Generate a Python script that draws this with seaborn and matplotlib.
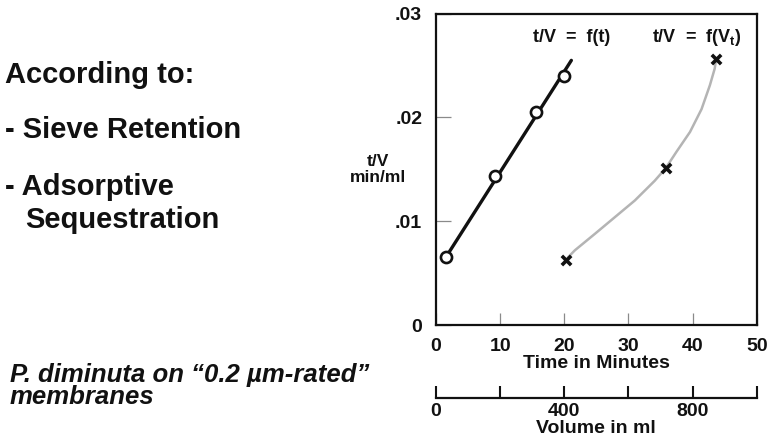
import matplotlib
matplotlib.use("Agg")
import matplotlib.pyplot as plt
import pandas as pd
import seaborn as sns

# Values
# t/V = f(t): open circles and the straight fit through them
time_min = [1.6, 9.2, 15.6, 19.9]
tv_time = [0.0066, 0.0144, 0.0205, 0.0240]
fit_min = [1.4, 21.1]
fit_tv = [0.0064, 0.0255]

# t/V = f(Vt): crosses and the grey curve (drawn on the minutes scale)
vol_min = [20.2, 35.8, 43.7]
tv_vol = [0.0063, 0.0151, 0.0256]
curve_min = [20.55, 21.65, 24.8, 27.9, 31.0, 34.1, 35.8, 37.5, 39.6, 41.4, 42.7, 43.45, 43.6]
curve_tv = [0.0065, 0.0072, 0.0088, 0.0104, 0.0120, 0.0139, 0.0151, 0.0167, 0.0186,
            0.0208, 0.0231, 0.0247, 0.0253]

x_ticks = [0, 10, 20, 30, 40, 50]
y_ticks = [0, 0.01, 0.02, 0.03]
y_labels = ["0", ".01", ".02", ".03"]
vol_major = [0, 400, 800]
vol_minor = [200, 600, 1000]

sns.set_theme(style="white")
plt.rcParams["font.family"] = ["Liberation Sans", "DejaVu Sans"]
plt.rcParams["font.weight"] = "bold"
plt.rcParams["text.color"] = "#111111"
plt.rcParams["axes.labelcolor"] = "#111111"
plt.rcParams["xtick.color"] = "#111111"
plt.rcParams["ytick.color"] = "#111111"
plt.rcParams["mathtext.fontset"] = "custom"
plt.rcParams["mathtext.rm"] = "Liberation Sans:bold"
plt.rcParams["mathtext.bf"] = "Liberation Sans:bold"
plt.rcParams["lines.solid_capstyle"] = "round"

fig = plt.figure(figsize=(7.69, 4.41), dpi=100)
ax = fig.add_axes([0.567, 0.263, 0.417, 0.706])

fit_df = pd.DataFrame({"t": fit_min, "tv": fit_tv})
curve_df = pd.DataFrame({"t": curve_min, "tv": curve_tv})
pts_t = pd.DataFrame({"t": time_min, "tv": tv_time})
pts_v = pd.DataFrame({"t": vol_min, "tv": tv_vol})

sns.lineplot(data=fit_df, x="t", y="tv", color="#111111", lw=2.4, sort=False, ax=ax, zorder=2)
sns.lineplot(data=curve_df, x="t", y="tv", color="#b4b4b4", lw=1.8, sort=False, ax=ax, zorder=2)
sns.scatterplot(data=pts_t, x="t", y="tv", marker="o", s=64, facecolor="white",
                edgecolor="#111111", linewidth=1.9, ax=ax, zorder=3)
sns.scatterplot(data=pts_v, x="t", y="tv", marker="x", s=45, color="#111111",
                linewidth=2.6, ax=ax, zorder=3)

ax.set_xlim(0, 50)
ax.set_ylim(0, 0.03)
ax.set_xticks(x_ticks)
ax.set_xticklabels([str(v) for v in x_ticks], fontsize=14, fontweight="bold")
ax.set_yticks(y_ticks)
ax.set_yticklabels(y_labels, fontsize=14, fontweight="bold")
ax.tick_params(axis="x", bottom=True, direction="in", length=9, width=0.9,
               color="#8a8a8a", labelcolor="#111111", pad=9)
ax.tick_params(axis="y", left=True, direction="in", length=11, width=0.9,
               color="#8a8a8a", labelcolor="#111111", pad=10)
for sp in ax.spines.values():
    sp.set_color("#111111")
    sp.set_linewidth(1.6)

ax.set_xlabel("Time in Minutes", fontsize=14, fontweight="bold", labelpad=0)
ax.set_ylabel("t/V\nmin/ml", fontsize=12.5, fontweight="bold", rotation=0,
              ha="center", va="center", linespacing=1.1)
ax.yaxis.set_label_coords(-0.181, 0.50)

ax.text(21.1, 0.0277, "t/V  =  f(t)", fontsize=13, fontweight="bold", ha="center", va="center")
ax.text(40.6, 0.0277, r"t/V  =  f(V$_{\mathbf{t}}$)", fontsize=13, fontweight="bold",
        ha="center", va="center")

# second scale: volume in ml
ax2 = fig.add_axes([0.567, 0.098, 0.417, 0.001])
ax2.set_xlim(0, 1000)
ax2.set_yticks([])
ax2.set_xticks(vol_major)
ax2.set_xticklabels([str(v) for v in vol_major], fontsize=14, fontweight="bold")
ax2.set_xticks(vol_minor, minor=True)
ax2.tick_params(axis="x", which="both", bottom=True, direction="in", length=9, width=1.5,
                color="#111111", labelcolor="#111111", pad=4)
for side in ["top", "left", "right"]:
    ax2.spines[side].set_visible(False)
ax2.spines["bottom"].set_color("#111111")
ax2.spines["bottom"].set_linewidth(1.6)
ax2.set_xlabel("Volume in ml", fontsize=14, fontweight="bold", labelpad=0)

# left-hand text
fig.text(0.007, 0.830, "According to:", fontsize=21, fontweight="bold", va="center")
fig.text(0.007, 0.705, "- Sieve Retention", fontsize=21, fontweight="bold", va="center")
fig.text(0.007, 0.576, "- Adsorptive", fontsize=21, fontweight="bold", va="center")
fig.text(0.033, 0.501, "Sequestration", fontsize=21, fontweight="bold", va="center")
fig.text(0.013, 0.150, "P. diminuta on \u201c0.2 \u00b5m-rated\u201d", fontsize=18.5,
         fontweight="bold", style="italic", va="center")
fig.text(0.013, 0.100, "membranes", fontsize=18.5, fontweight="bold", style="italic", va="center")

fig.savefig("out.png", dpi=100)
